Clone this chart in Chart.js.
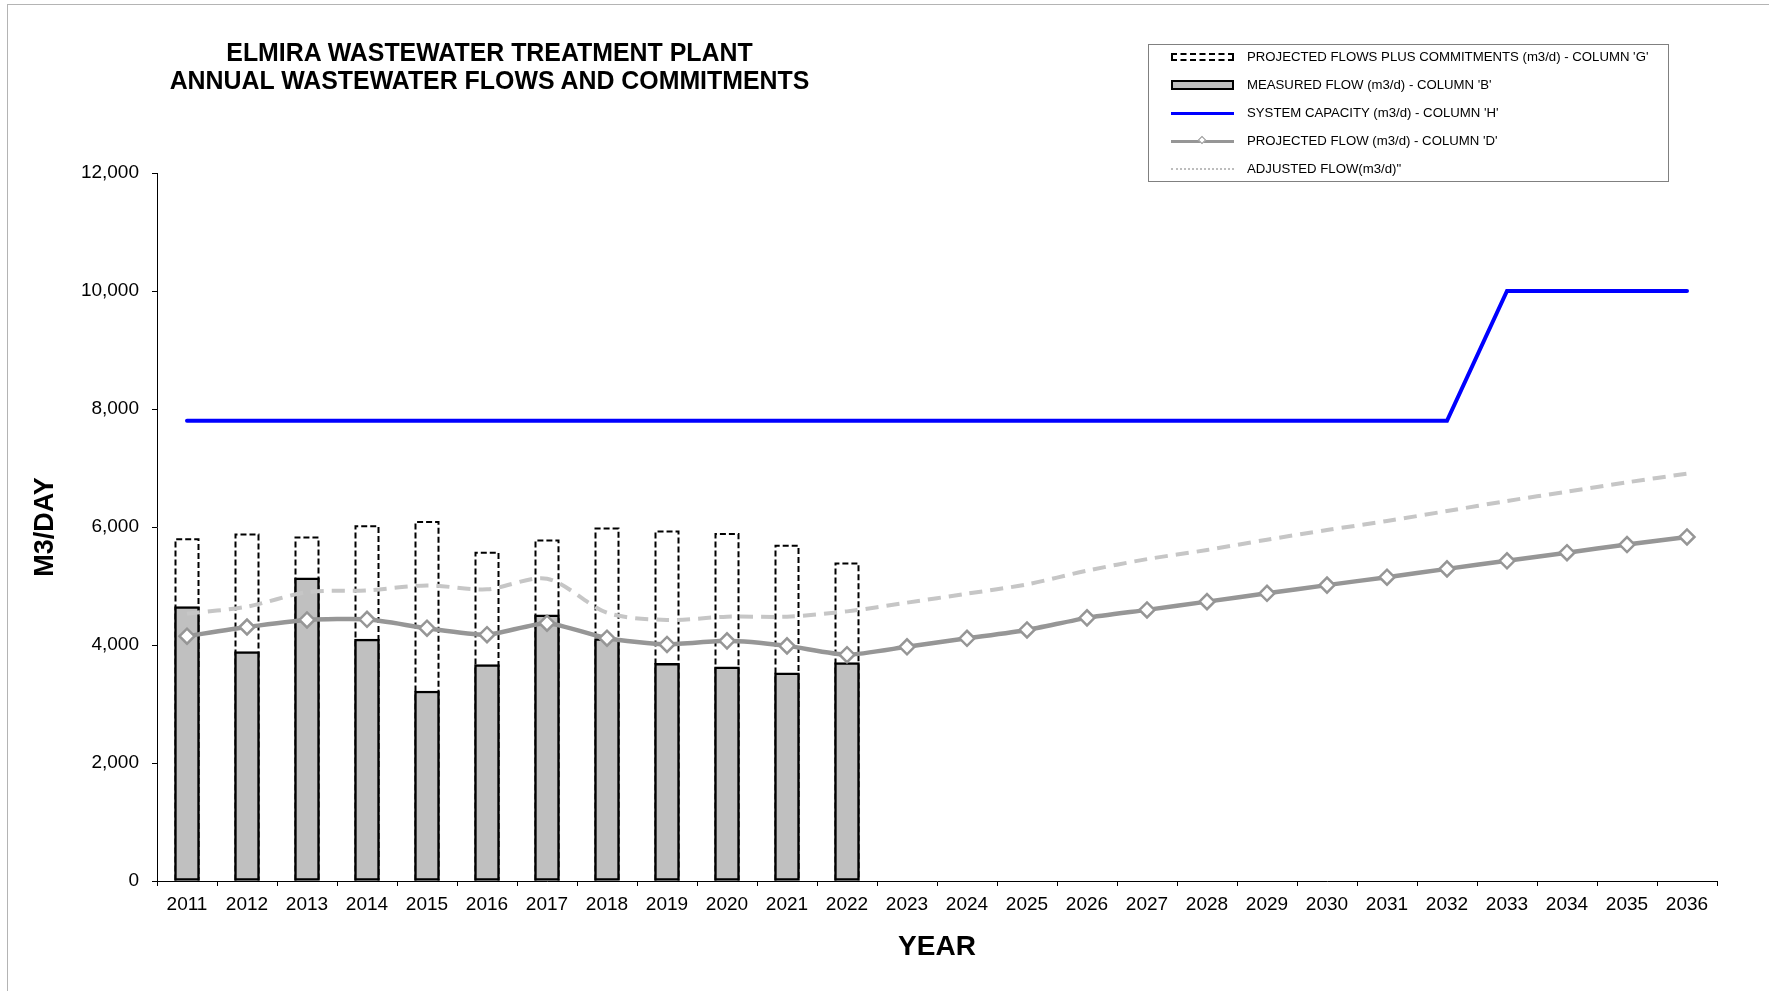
<!DOCTYPE html>
<html>
<head>
<meta charset="utf-8">
<title>Elmira WWTP annual flows</title>
<script src="https://cdn.jsdelivr.net/npm/chart.js@4.4.1/dist/chart.umd.min.js"></script>
<style>
  html, body { margin: 0; padding: 0; background: #fff; }
  #wrap { position: relative; width: 1769px; height: 991px; overflow: hidden; font-family: "Liberation Sans", Arial, sans-serif; }
  #frame { position: absolute; left: 7px; top: 4px; width: 1800px; height: 1000px; border-left: 1px solid #b4b4b4; border-top: 1px solid #b4b4b4; }
  #chart { position: absolute; left: 0; top: 0; }
  #title { position: absolute; left: 0; top: 38px; width: 979px; text-align: center; font-weight: bold; font-size: 24.9px; line-height: 28.2px; color: #000; }
  #legend { position: absolute; left: 1148px; top: 44px; width: 521px; height: 138px; border: 1px solid #808080; background: #fff; box-sizing: border-box; }
  .row { position: absolute; left: 0; height: 28px; width: 100%; }
  .sym { position: absolute; left: 22px; width: 63px; top: 14px; }
  .txt { position: absolute; left: 98px; top: 0; line-height: 28px; font-size: 13.2px; color: #000; white-space: nowrap; }
</style>
</head>
<body>
<div id="wrap">
  <div id="frame"></div>
  <canvas id="chart" width="1769" height="991"></canvas>
  <div id="title">ELMIRA WASTEWATER TREATMENT PLANT<br>ANNUAL WASTEWATER FLOWS AND COMMITMENTS</div>
  <div id="legend"></div>
</div>
<script>
'use strict'

// x categories
var years = ['2011', '2012', '2013', '2014', '2015', '2016', '2017', '2018', '2019', '2020', '2021', '2022', '2023',
    '2024', '2025', '2026', '2027', '2028', '2029', '2030', '2031', '2032', '2033', '2034', '2035', '2036'];

// column 'G' - projected flows plus commitments (measured years only)
var flowsPlusCommitments = [5810, 5890, 5840, 6030, 6100, 5580, 5790, 5990, 5940, 5900, 5700, 5400,
    null, null, null, null, null, null, null, null, null, null, null, null, null, null];

// column 'B' - measured flow
var measuredFlow = [4650, 3890, 5140, 4100, 3220, 3670, 4510, 4110, 3690, 3630, 3530, 3700,
    null, null, null, null, null, null, null, null, null, null, null, null, null, null];

// column 'H' - system capacity
var systemCapacity = [7800, 7800, 7800, 7800, 7800, 7800, 7800, 7800, 7800, 7800, 7800, 7800, 7800,
    7800, 7800, 7800, 7800, 7800, 7800, 7800, 7800, 7800, 10000, 10000, 10000, 10000];

// column 'D' - projected flow
var projectedFlow = [4150, 4305, 4425, 4435, 4285, 4175, 4370, 4115, 4010, 4070, 3985, 3835, 3970,
    4113, 4255, 4460, 4595, 4735, 4876, 5015, 5150, 5290, 5427, 5565, 5702, 5831];

// adjusted flow
var adjustedFlow = [4530, 4650, 4895, 4926, 5010, 4943, 5124, 4547, 4424, 4480, 4480, 4570, 4718,
    4870, 5028, 5260, 5455, 5610, 5785, 5948, 6102, 6270, 6441, 6599, 6757, 6905];

var yTicks = { min: 0, max: 12000, step: 2000 };

var LBL_G = "PROJECTED FLOWS PLUS COMMITMENTS (m3/d) - COLUMN 'G'";
var LBL_B = "MEASURED FLOW (m3/d) - COLUMN 'B'";
var LBL_H = "SYSTEM CAPACITY (m3/d) - COLUMN 'H'";
var LBL_D = "PROJECTED FLOW (m3/d) - COLUMN 'D'";
var LBL_A = 'ADJUSTED FLOW(m3/d)"';

var FONT = '"Liberation Sans", Arial, sans-serif';

// bars with a dashed outline (chart.js bars can't dash their border)
var dashedBars = {
    id: 'dashedBars',
    afterDatasetDraw: function (chart, args) {
        var ds = chart.data.datasets[args.index];
        if (ds.label !== LBL_G) return;
        var ctx = chart.ctx;
        ctx.save();
        ctx.strokeStyle = '#000';
        ctx.lineWidth = 2;
        ctx.setLineDash([6, 3]);
        args.meta.data.forEach(function (bar, i) {
            if (ds.data[i] == null) return;
            var p = bar.getProps(['x', 'y', 'base', 'width'], true);
            var l = p.x - p.width / 2 + 1, r = p.x + p.width / 2 - 1;
            ctx.beginPath();
            ctx.moveTo(l, p.base);
            ctx.lineTo(l, p.y + 1);
            ctx.lineTo(r, p.y + 1);
            ctx.lineTo(r, p.base);
            ctx.stroke();
        });
        ctx.restore();
    }
};

Chart.defaults.font.family = FONT;
Chart.defaults.color = '#000';

var chartConfig = {
    type: 'bar',
    data: {
        labels: years,
        datasets: [{
            type: 'line',
            label: LBL_D,
            data: projectedFlow,
            borderColor: '#969696',
            borderWidth: 4.5,
            tension: 0.2,
            pointStyle: 'rectRot',
            pointRadius: 7.5,
            pointBackgroundColor: '#fff',
            pointBorderColor: '#969696',
            pointBorderWidth: 2.5,
            order: 0
        }, {
            type: 'line',
            label: LBL_A,
            data: adjustedFlow,
            borderColor: '#c6c6c6',
            borderWidth: 4,
            borderDash: [13, 8],
            tension: 0.3,
            pointRadius: 0,
            order: 1
        }, {
            type: 'line',
            label: LBL_H,
            data: systemCapacity,
            borderColor: '#0000ff',
            borderWidth: 4,
            borderCapStyle: 'round',
            tension: 0,
            pointRadius: 0,
            order: 1
        }, {
            label: LBL_B,
            data: measuredFlow,
            backgroundColor: '#c0c0c0',
            borderColor: '#000',
            borderWidth: 2.5,
            borderSkipped: false,
            barThickness: 25,
            grouped: false,
            order: 3
        }, {
            label: LBL_G,
            data: flowsPlusCommitments,
            backgroundColor: 'rgba(0,0,0,0)',
            borderWidth: 0,
            barThickness: 25,
            grouped: false,
            order: 4
        }]
    },
    options: {
        responsive: false,
        animation: false,
        layout: {
            padding: { left: 20, top: 173, right: 52, bottom: 10 }
        },
        plugins: {
            legend: { display: false },
            title: { display: false },
            tooltip: { enabled: false }
        },
        scales: {
            x: {
                offset: true,
                afterFit: function (scale) { scale.height = 100; },
                border: { color: '#000', width: 1 },
                grid: {
                    offset: true,
                    drawOnChartArea: false,
                    tickLength: 5,
                    color: '#000'
                },
                ticks: {
                    color: '#000',
                    font: { size: 19 },
                    padding: 7,
                    autoSkip: false,
                    maxRotation: 0
                },
                title: {
                    display: true,
                    text: 'YEAR',
                    color: '#000',
                    font: { size: 28, weight: 'bold' },
                    padding: { top: 0, bottom: 17 }
                }
            },
            y: {
                min: yTicks.min,
                max: yTicks.max,
                afterFit: function (scale) { scale.width = 137; },
                border: { color: '#000', width: 1 },
                grid: {
                    drawOnChartArea: false,
                    tickLength: 5,
                    color: '#000'
                },
                ticks: {
                    stepSize: yTicks.step,
                    color: '#000',
                    font: { size: 19 },
                    padding: 13,
                    callback: function (v) { return v.toLocaleString('en-US'); }
                },
                title: {
                    display: true,
                    text: 'M3/DAY',
                    color: '#000',
                    font: { size: 27, weight: 'bold' },
                    padding: { top: 9, bottom: 0 }
                }
            }
        }
    },
    plugins: [dashedBars]
};

var chart = new Chart(document.getElementById('chart'), chartConfig);

// legend drawn as html, labels taken from the chart datasets
var legendOrder = [LBL_G, LBL_B, LBL_H, LBL_D, LBL_A];
var legendSymbols = {};
legendSymbols[LBL_G] = '<div style="position:absolute;left:0;top:-4px;width:63px;height:8px;box-sizing:border-box;border:2px dashed #000;background:#fff"></div>';
legendSymbols[LBL_B] = '<div style="position:absolute;left:0;top:-5px;width:63px;height:10px;box-sizing:border-box;border:2.5px solid #000;background:#c0c0c0"></div>';
legendSymbols[LBL_H] = '<div style="position:absolute;left:0;top:-1.5px;width:63px;height:3px;background:#00f"></div>';
legendSymbols[LBL_D] = '<div style="position:absolute;left:0;top:-1.5px;width:63px;height:3px;background:#969696"></div>' +
    '<div style="position:absolute;left:28px;top:-4px;width:6px;height:6px;box-sizing:border-box;border:1.5px solid #969696;background:#fff;transform:rotate(45deg)"></div>';
legendSymbols[LBL_A] = '<div style="position:absolute;left:0;top:-1px;width:63px;height:0;border-top:2px dotted #bdbdbd"></div>';

var legendEl = document.getElementById('legend');
legendOrder.forEach(function (label, i) {
    var ds = chart.data.datasets.find(function (d) { return d.label === label; });
    var row = document.createElement('div');
    row.className = 'row';
    row.style.top = (12.4 + i * 27.9 - 14) + 'px';
    row.innerHTML = '<div class="sym">' + legendSymbols[label] + '</div>';
    var txt = document.createElement('div');
    txt.className = 'txt';
    txt.textContent = ds.label;
    row.appendChild(txt);
    legendEl.appendChild(row);
});
</script>
</body>
</html>
